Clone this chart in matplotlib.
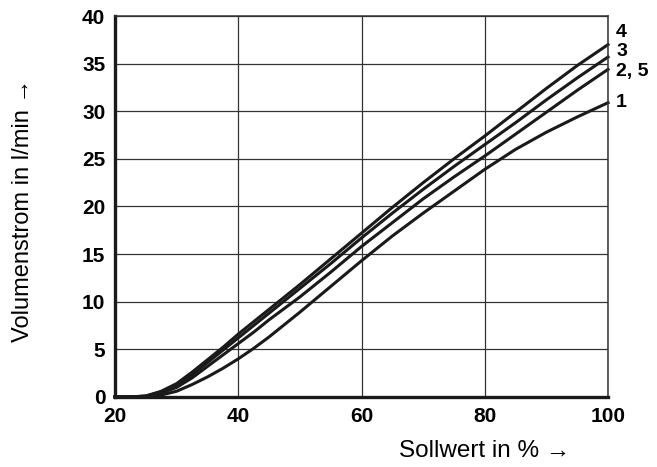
import matplotlib
matplotlib.use("Agg")
import matplotlib.pyplot as plt

# Sollwert in %
sollwert = [20, 22.5, 25, 27.5, 30, 32.5, 35, 37.5, 40, 42.5, 45, 50, 55, 60, 65, 70, 75, 80, 85, 90, 95, 100]

# Volumenstrom in l/min, one list per curve (2 and 5 coincide)
q4   = [0, 0.0, 0.1, 0.6, 1.4, 2.6, 3.9, 5.2, 6.6, 7.9, 9.2, 11.8, 14.5, 17.2, 19.9, 22.5, 25.0, 27.4, 29.9, 32.4, 34.8, 37.0]
q3   = [0, 0.0, 0.1, 0.5, 1.2, 2.3, 3.6, 4.9, 6.2, 7.5, 8.8, 11.4, 14.0, 16.7, 19.3, 21.8, 24.2, 26.5, 28.8, 31.2, 33.5, 35.7]
q2_5 = [0, 0.0, 0.05, 0.4, 1.0, 2.0, 3.2, 4.4, 5.6, 6.8, 8.1, 10.5, 13.1, 15.8, 18.3, 20.8, 23.1, 25.3, 27.6, 29.9, 32.2, 34.4]
q1   = [0, 0.0, 0.02, 0.2, 0.6, 1.3, 2.1, 3.0, 4.0, 5.1, 6.3, 8.9, 11.6, 14.3, 16.9, 19.3, 21.6, 23.9, 26.0, 27.8, 29.4, 30.9]

curves = [q4, q3, q2_5, q1]
curve_labels = ['4', '3', '2, 5', '1']
label_y = [38.3, 36.3, 34.2, 30.9]   # where the end labels sit

xticks = [20, 40, 60, 80, 100]
yticks = [0, 5, 10, 15, 20, 25, 30, 35, 40]

plt.rcParams['font.family'] = ['Liberation Sans', 'DejaVu Sans']

fig = plt.figure(figsize=(6.57, 4.67), dpi=100)
ax = fig.add_axes([0.175, 0.15, 0.7505, 0.8157])

ax.set_xlim(20, 100)
ax.set_ylim(0, 40)
ax.set_xticks(xticks)
ax.set_yticks(yticks)
ax.grid(True, color='#333333', linewidth=0.9)
ax.set_axisbelow(True)

for q in curves:
  ax.plot(sollwert, q, color='#1a1a1a', linewidth=2.2, solid_joinstyle='round', clip_on=False)

for lab, yy in zip(curve_labels, label_y):
  ax.text(101.3, yy, lab, fontsize=14, fontweight='bold', va='center', ha='left')

ax.tick_params(length=0, pad=7, labelsize=15)
for t in ax.get_xticklabels() + ax.get_yticklabels():
  t.set_fontweight('bold')

for s in ['left', 'bottom']:
  ax.spines[s].set_linewidth(2.4)
  ax.spines[s].set_color('#1a1a1a')
for s in ['top', 'right']:
  ax.spines[s].set_linewidth(1.1)
  ax.spines[s].set_color('#333333')

fig.text(0.737, 0.034, 'Sollwert in % \u2192', fontsize=17.5, ha='center', va='center')
fig.text(0.035, 0.55, 'Volumenstrom in l/min \u2192', fontsize=17, ha='center', va='center', rotation=90)

fig.savefig('out.png', dpi=100)
